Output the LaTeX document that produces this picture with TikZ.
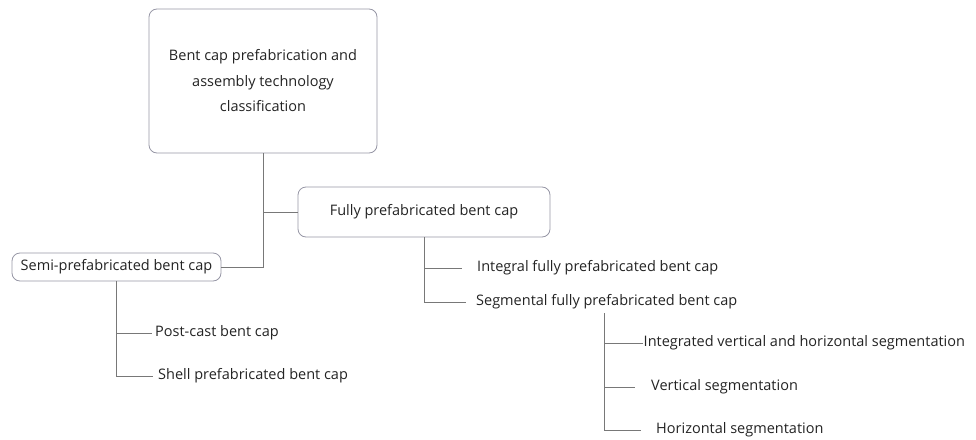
\documentclass[tikz,border=0pt]{standalone}
\usepackage{fontspec}
\setmainfont{Open Sans}
\definecolor{txt}{RGB}{35,35,35}
\definecolor{ln}{RGB}{120,120,120}
\definecolor{bx}{RGB}{150,150,165}
\begin{document}
\begin{tikzpicture}[x=1pt,y=-1pt,
  every node/.style={text=txt,font=\fontsize{14.5}{25.5}\selectfont},
  boxnode/.style={draw=bx,line width=0.8pt,rounded corners=8pt,align=center,inner sep=0pt},
  leaf/.style={anchor=west,inner ysep=0pt,text height=11pt,text depth=3.5pt},
  conn/.style={draw=ln,line width=0.8pt}]
\useasboundingbox (0,0) rectangle (976,439);
\node[boxnode,minimum width=228pt,minimum height=144pt] (root) at (263,81)
  {Bent cap prefabrication and\\assembly technology\\classification};
\node[boxnode,minimum width=252pt,minimum height=50pt] (fully) at (424,212) {Fully prefabricated bent cap};
\node[boxnode,minimum width=209pt,minimum height=28pt] (semi) at (116.5,267) {Semi-prefabricated bent cap};
\node[leaf,inner xsep=15pt] (integral) at (462,268) {Integral fully prefabricated bent cap};
\node[leaf,inner xsep=10pt] (segmental) at (466,302) {Segmental fully prefabricated bent cap};
\node[leaf,inner xsep=3pt] (postcast) at (152,333) {Post-cast bent cap};
\node[leaf,inner xsep=5pt] (shell) at (153,376) {Shell prefabricated bent cap};
\node[leaf,inner xsep=0.5pt] (integrated) at (643,343) {Integrated vertical and horizontal segmentation};
\node[leaf,inner xsep=16pt] (vertical) at (635,387) {Vertical segmentation};
\node[leaf,inner xsep=15pt] (horizontal) at (641,430) {Horizontal segmentation};
\coordinate (segv) at (604,313);
\draw[conn] (root.south) |- (semi.east);
\draw[conn] (root.south |- fully.west) -- (fully.west);
\draw[conn] (fully.south) |- (integral.west);
\draw[conn] (fully.south) |- (segmental.west);
\draw[conn] (semi.south) |- (postcast.west);
\draw[conn] (semi.south) |- (shell.west);
\draw[conn] (segv) |- (integrated.west);
\draw[conn] (segv) |- (vertical.west);
\draw[conn] (segv) |- (horizontal.west);
\end{tikzpicture}
\end{document}
